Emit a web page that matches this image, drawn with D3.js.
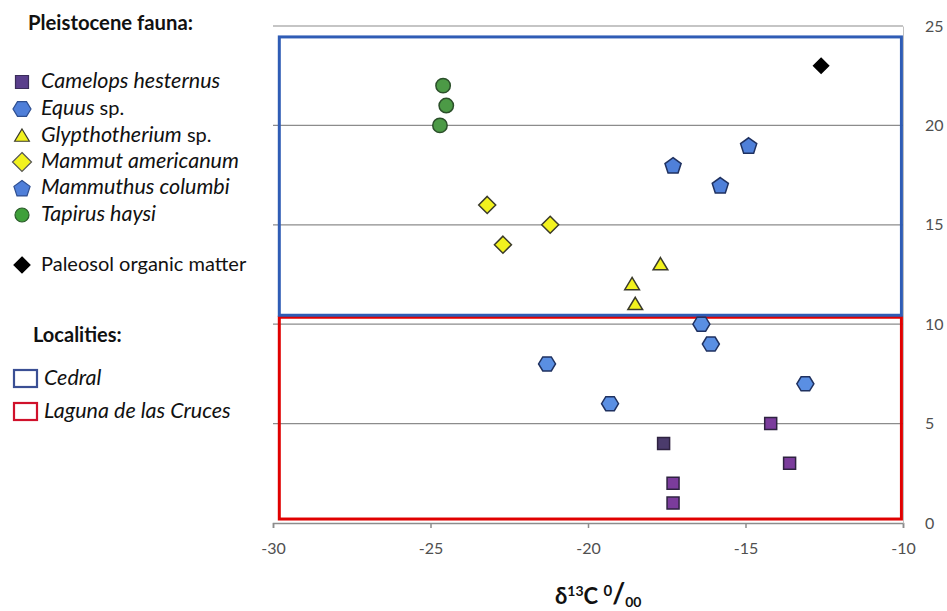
<!DOCTYPE html>
<html>
<head>
<meta charset="utf-8">
<script src="https://cdn.jsdelivr.net/npm/d3@7"></script>
<style>
body { margin: 0; background: #fff; }
text { font-family: Lato, "Open Sans", sans-serif; }
</style>
</head>
<body>
<script>
var width = 947, height = 611;

// data (x = d13C permil, y = sample number)
var camelops = [[-17.6, 4], [-17.3, 2], [-17.3, 1], [-14.2, 5], [-13.6, 3]];
var equus = [[-16.4, 10], [-16.1, 9], [-13.1, 7], [-21.3, 8], [-19.3, 6]];
var glypthotherium = [[-17.7, 13], [-18.6, 12], [-18.5, 11]];
var mammut = [[-23.2, 16], [-22.7, 14], [-21.2, 15]];
var mammuthus = [[-14.9, 19], [-17.3, 18], [-15.8, 17]];
var tapirus = [[-24.6, 22], [-24.5, 21], [-24.7, 20]];
var paleosol = [[-12.6, 23]];

var xTicks = [-30, -25, -20, -15, -10];
var yTicks = [0, 5, 10, 15, 20, 25];

// locality boxes: [xmin, xmax, ymin, ymax]
var cedralBox = [-29.8, -10.05, 10.45, 24.45];
var lagunaBox = [-29.8, -10.05, 0.2, 10.35];

var svg = d3.select("body").append("svg")
  .attr("width", width)
  .attr("height", height);

var x = d3.scaleLinear().domain([-30, -10]).range([273, 903]);
var y = d3.scaleLinear().domain([0, 25]).range([523, 26]);

// gridlines
svg.append("g").selectAll("line")
  .data(yTicks.filter(function(d) { return d > 0; }))
  .enter().append("line")
  .attr("x1", x(-30)).attr("x2", x(-10))
  .attr("y1", function(d) { return y(d); })
  .attr("y2", function(d) { return y(d); })
  .attr("stroke", "#8c8c8c")
  .attr("stroke-width", 1.2);

// bottom axis
var xAxis = svg.append("g")
  .attr("transform", "translate(0," + y(0) + ")")
  .call(d3.axisBottom(x).tickValues(xTicks).tickSize(5).tickPadding(15)
    .tickFormat(function(d) { return String(d); }));
xAxis.select(".domain").attr("stroke", "#8c8c8c").attr("stroke-width", 1.5);
xAxis.selectAll(".tick line").attr("stroke", "#8c8c8c").attr("stroke-width", 1.5);
xAxis.selectAll("text").attr("fill", "#505050").attr("font-size", 16)
  .style("font-family", "Lato, sans-serif");

// right axis
var yAxis = svg.append("g")
  .attr("transform", "translate(" + x(-10) + ",0)")
  .call(d3.axisRight(y).tickValues(yTicks).tickSize(0).tickPadding(22));
yAxis.select(".domain").attr("stroke", "#c0c0c0").attr("stroke-width", 1);
yAxis.selectAll("text").attr("fill", "#505050").attr("font-size", 16)
  .style("font-family", "Lato, sans-serif");

// locality boxes
function drawBox(b, color) {
  svg.append("rect")
    .attr("x", x(b[0]))
    .attr("y", y(b[3]))
    .attr("width", x(b[1]) - x(b[0]))
    .attr("height", y(b[2]) - y(b[3]))
    .attr("fill", "none")
    .attr("stroke", color)
    .attr("stroke-width", 3);
}
drawBox(lagunaBox, "#e00000");
drawBox(cedralBox, "#2f5cb5");

// marker shapes
function shape(type, s) {
  var p = [], i, a;
  if (type == "circle") {
    return "M" + s + ",0A" + s + "," + s + " 0 1,1 " + (-s) + ",0A" + s + "," + s + " 0 1,1 " + s + ",0Z";
  }
  if (type == "square") {
    p = [[-s, -s], [s, -s], [s, s], [-s, s]];
  } else if (type == "diamond") {
    p = [[0, -s], [s, 0], [0, s], [-s, 0]];
  } else if (type == "triangle") {
    p = [[0, -s], [s * 1.05, s * 0.75], [-s * 1.05, s * 0.75]];
  } else if (type == "hexagon") {
    for (i = 0; i < 6; i++) { a = Math.PI / 3 * i; p.push([s * Math.cos(a), s * 0.95 * Math.sin(a)]); }
  } else if (type == "pentagon") {
    for (i = 0; i < 5; i++) { a = -Math.PI / 2 + 2 * Math.PI / 5 * i; p.push([s * Math.cos(a), s * Math.sin(a) + 1]); }
  }
  return "M" + p.map(function(q) { return q[0].toFixed(2) + "," + q[1].toFixed(2); }).join("L") + "Z";
}

var series = [
  {data: tapirus, type: "circle", size: 7.2, fill: "#4c9a46", stroke: "#2b4f2a"},
  {data: mammut, type: "diamond", size: 8.5, fill: "#f2f21e", stroke: "#3a3a2a"},
  {data: glypthotherium, type: "triangle", size: 7, fill: "#f2f21e", stroke: "#3a3a2a"},
  {data: mammuthus, type: "pentagon", size: 8.5, fill: "#4f80d9", stroke: "#1f3160"},
  {data: equus, type: "hexagon", size: 8.5, fill: "#5a8fe3", stroke: "#1f3160"},
  {data: camelops, type: "square", size: 6, fill: "#7b3c9c", stroke: "#2e2240"},
  {data: paleosol, type: "diamond", size: 7.5, fill: "#000", stroke: "#000"}
];

series.forEach(function(s) {
  svg.append("g").selectAll("path")
    .data(s.data)
    .enter().append("path")
    .attr("transform", function(d) { return "translate(" + x(d[0]) + "," + y(d[1]) + ")"; })
    .attr("d", shape(s.type, s.size))
    .attr("fill", function(d, i) { return (s.type == "square" && i == 0) ? "#4b3b6c" : s.fill; })
    .attr("stroke", s.stroke)
    .attr("stroke-width", 1.5);
});

// legend
svg.append("text")
  .attr("x", 28).attr("y", 30)
  .attr("font-size", 20).attr("font-weight", "bold").attr("fill", "#111")
  .attr("textLength", 165).attr("lengthAdjust", "spacingAndGlyphs")
  .text("Pleistocene fauna:");

var legendItems = [
  {it: "Camelops hesternus", rest: "", type: "square", size: 6.5, fill: "#5a3f8c", stroke: "#3a2d5a", y: 81},
  {it: "Equus", rest: " sp.", type: "hexagon", size: 9, fill: "#4f7fd9", stroke: "#2f4f90", y: 108},
  {it: "Glypthotherium", rest: " sp.", type: "triangle", size: 7, fill: "#f2f21e", stroke: "#3a3a2a", y: 135},
  {it: "Mammut americanum", rest: "", type: "diamond", size: 9.5, fill: "#f2f21e", stroke: "#555", y: 161},
  {it: "Mammuthus columbi", rest: "", type: "pentagon", size: 8.5, fill: "#4f7fd9", stroke: "#2f4f90", y: 187},
  {it: "Tapirus haysi", rest: "", type: "circle", size: 7, fill: "#3fa03a", stroke: "#2b5a2a", y: 214},
  {it: "", rest: "Paleosol organic matter", type: "diamond", size: 8, fill: "#000", stroke: "#000", y: 264}
];

legendItems.forEach(function(d) {
  svg.append("path")
    .attr("transform", "translate(22," + (d.y + 1) + ")")
    .attr("d", shape(d.type, d.size))
    .attr("fill", d.fill).attr("stroke", d.stroke).attr("stroke-width", 1.2);
  var t = svg.append("text")
    .attr("x", 41).attr("y", d.y + 7)
    .attr("font-size", 20).attr("fill", "#111");
  t.append("tspan").attr("font-style", "italic").attr("font-size", 21.5).text(d.it);
  t.append("tspan").text(d.rest);
});

svg.append("text")
  .attr("x", 33).attr("y", 342)
  .attr("font-size", 20).attr("font-weight", "bold").attr("fill", "#111")
  .text("Localities:");

var localityItems = [
  {name: "Cedral", color: "#3a4f94", y: 378},
  {name: "Laguna de las Cruces", color: "#d0112b", y: 411}
];
localityItems.forEach(function(d) {
  svg.append("rect")
    .attr("x", 14).attr("y", d.y - 8)
    .attr("width", 23).attr("height", 17)
    .attr("fill", "none").attr("stroke", d.color).attr("stroke-width", 2.2);
  svg.append("text")
    .attr("x", 44).attr("y", d.y + 7)
    .attr("font-size", 21.5).attr("font-style", "italic").attr("fill", "#111")
    .text(d.name);
});

// x axis title
var title = svg.append("text")
  .attr("x", 555).attr("y", 604)
  .attr("font-weight", "bold").attr("font-size", 22).attr("fill", "#111");
title.append("tspan").text("\u03B4");
title.append("tspan").attr("font-size", 14).attr("dy", -8).text("13");
title.append("tspan").attr("dy", 8).text("C ");
title.append("tspan").attr("font-size", 15).attr("dy", -8).text("0");
title.append("tspan").attr("font-size", 28).attr("dy", 7).text("/");
title.append("tspan").attr("font-size", 14).attr("dy", 4).text("00");
</script>
</body>
</html>
